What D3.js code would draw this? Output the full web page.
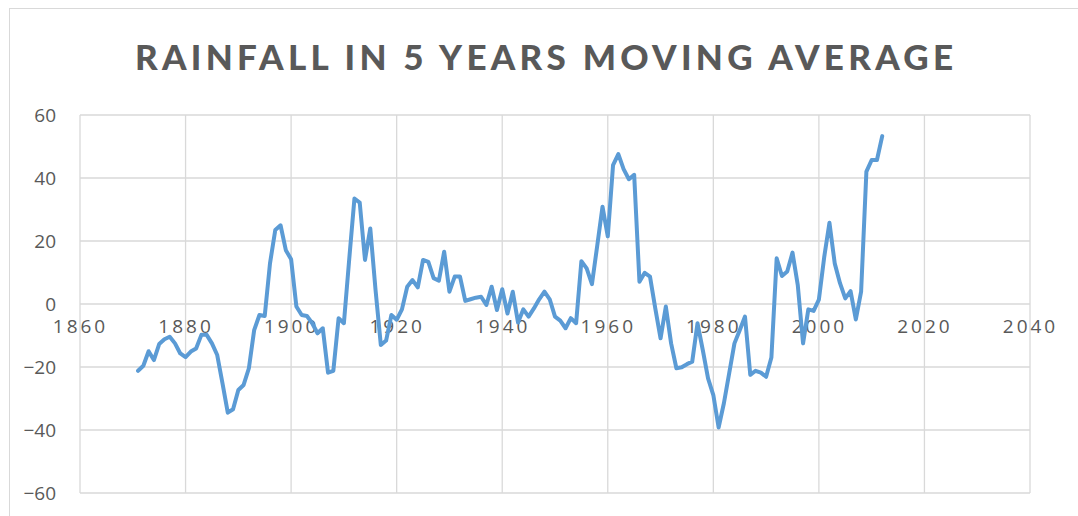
<!DOCTYPE html>
<html><head><meta charset="utf-8">
<script src="https://cdn.jsdelivr.net/npm/d3@7"></script>
<style>body{margin:0;background:#fff;} svg{display:block;}</style>
</head><body>
<svg id="c" width="1078" height="516"></svg>
<script>
const years = d3.range(1871, 2013);
const values = [
 -21.2,-19.6,-15,-17.8,-12.7,-11.2,-10.4,-12.5,-15.7,-16.9,
 -15.1,-14.1,-9.8,-9.8,-12.5,-16.2,-25.2,-34.5,-33.4,-27.3,
 -25.7,-20.4,-8.3,-3.5,-3.8,12.9,23.5,25,17.1,14.2,
 -0.8,-3.5,-3.8,-6.1,-9.3,-7.7,-21.8,-21.2,-4.5,-6.1,
 14,33.5,32.2,14,24,4.4,-13,-11.6,-3.5,-5,
 -1.7,5.5,7.6,5.3,14,13.4,8.2,7.4,16.6,3.9,
 8.7,8.7,1,1.5,2,2.3,-0.3,5.5,-1.9,4.7,
 -3,3.9,-5.9,-1.7,-4,-1.4,1.5,3.9,1.5,-4,
 -5.3,-7.7,-4.5,-6.1,13.6,11.3,6.3,18.5,30.9,21.5,
 44.1,47.6,42.8,39.6,41,7.1,9.9,8.7,-1.4,-10.9,
 -0.8,-12.5,-20.4,-20.1,-19.1,-18.3,-6.1,-14.6,-23.6,-28.9,
 -39.2,-31.5,-22,-12.5,-8.3,-4,-22.5,-21.2,-21.8,-23.1,
 -17,14.5,8.9,10.3,16.3,6,-12.5,-1.7,-2.2,1.4,
 14.8,25.8,12.9,6.6,1.8,4.1,-4.9,3.9,42,45.7,
 45.7,53.3
];
const xTicks = [1860,1880,1900,1920,1940,1960,1980,2000,2020,2040];
const yTicks = [-60,-40,-20,0,20,40,60];
const title = "RAINFALL IN 5 YEARS MOVING AVERAGE";

const svg = d3.select("#c");
const x = d3.scaleLinear().domain([1860,2040]).range([80,1030]);
const y = d3.scaleLinear().domain([-60,60]).range([493,115]);

// outer border
svg.append("rect").attr("x",9.5).attr("y",8.5).attr("width",1080).attr("height",520)
  .attr("fill","none").attr("stroke","#d9d9d9").attr("stroke-width",1);

// title
svg.append("text").attr("x",544).attr("y",70).attr("text-anchor","middle")
  .attr("font-family","Lato, 'Open Sans', sans-serif").attr("font-weight","900")
  .attr("font-size",35).attr("fill","#595959")
  .attr("textLength",818).attr("lengthAdjust","spacing").text(title);

const grid = svg.append("g").attr("stroke","#d9d9d9").attr("stroke-width",1.3);
grid.selectAll("line.h").data(yTicks).join("line").attr("class","h")
  .attr("x1",x(1860)).attr("x2",x(2040)).attr("y1",d=>y(d)).attr("y2",d=>y(d));
grid.selectAll("line.v").data(xTicks).join("line").attr("class","v")
  .attr("y1",y(60)).attr("y2",y(-60)).attr("x1",d=>x(d)).attr("x2",d=>x(d));

// y axis labels
const yAxis = d3.axisLeft(y).tickValues(yTicks).tickSize(0).tickPadding(24);
const gy = svg.append("g").attr("transform",`translate(${x(1860)},0)`).call(yAxis);
gy.select(".domain").remove();
gy.selectAll("text").attr("font-family","'Open Sans', sans-serif").attr("font-size",19).attr("fill","#595959");

// x axis labels along zero line
const xAxis = d3.axisBottom(x).tickValues(xTicks).tickSize(0).tickPadding(20).tickFormat(d3.format("d"));
const gx = svg.append("g").attr("transform",`translate(0,${y(0)})`).call(xAxis);
gx.select(".domain").remove();
gx.selectAll("text").attr("font-family","'Open Sans', sans-serif").attr("font-size",19)
  .attr("fill","#595959").attr("letter-spacing","3px").attr("dy","0.45em");

// line
const line = d3.line().x((d,i)=>x(years[i])).y(d=>y(d));
svg.append("path").datum(values).attr("d",line).attr("fill","none")
  .attr("stroke","#5b9bd5").attr("stroke-width",4).attr("stroke-linejoin","round").attr("stroke-linecap","round");
</script>
</body></html>
